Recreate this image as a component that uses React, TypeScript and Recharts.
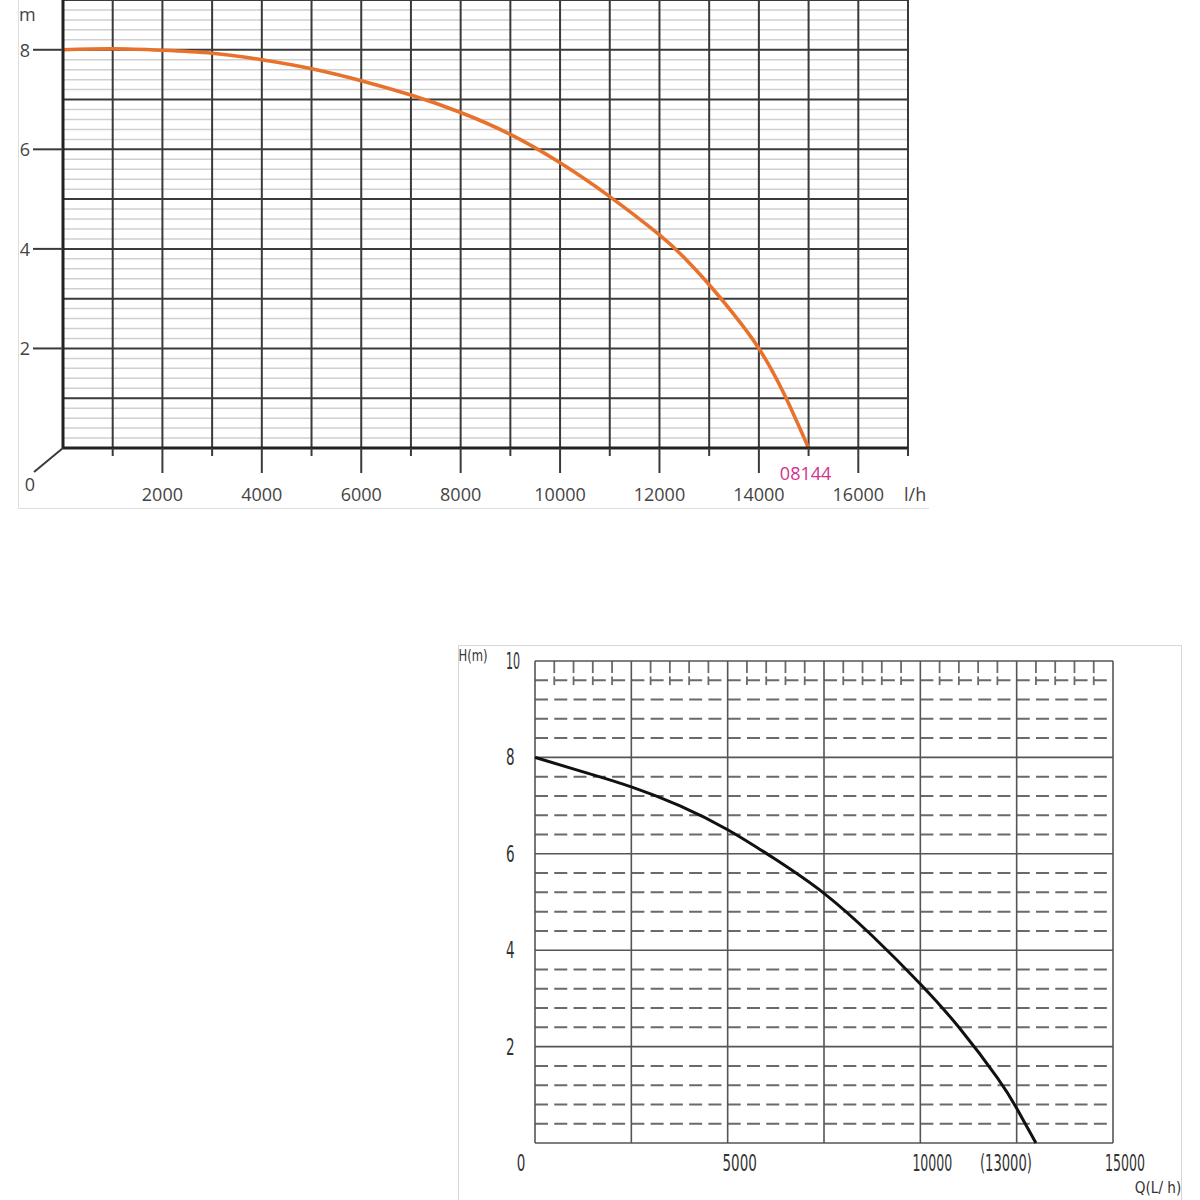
import { LineChart, Line, XAxis, YAxis, ReferenceLine } from "recharts"

// top curve (08144), head in m vs flow in l/h
const FLOW_A = [0, 1000, 2000, 3000, 4000, 5000, 6000, 7000, 8000, 9000, 10000, 11000, 12000, 12500, 13000, 13500, 14000, 14500, 15000]
const HEAD_A = [8.0, 8.02, 7.99, 7.93, 7.8, 7.62, 7.38, 7.09, 6.74, 6.3, 5.73, 5.05, 4.28, 3.82, 3.28, 2.68, 2.0, 1.1, 0]
const A_X_TICKS = [0, 1000, 2000, 3000, 4000, 5000, 6000, 7000, 8000, 9000, 10000, 11000, 12000, 13000, 14000, 15000, 16000, 17000]
const A_Y_TICKS = [2, 4, 6, 8, 9]
const A_MAJOR_Y = [1, 2, 3, 4, 5, 6, 7, 8, 9]

// bottom curve, H(m) vs Q(L/h)
const FLOW_B = [0, 1250, 2500, 3750, 5000, 6250, 7500, 8750, 10000, 11000, 12000, 12500, 13000]
const HEAD_B = [8.0, 7.7, 7.39, 7.0, 6.5, 5.88, 5.18, 4.3, 3.3, 2.4, 1.35, 0.72, 0]
const B_X_TICKS = [0, 5000, 10000, 13000, 15000]
const B_Y_TICKS = [2, 4, 6, 8, 10]
const B_GRID_X = [0, 2500, 5000, 7500, 10000, 12500, 15000]
const B_MAJOR_Y = [0, 2, 4, 6, 8, 10]

const range = (from: number, to: number, step: number) => {
  const out: number[] = []
  for (let v = from; v <= to + 1e-9; v += step) out.push(Math.round(v * 100) / 100)
  return out
}

// light minor lines every 0.2 m, skipping the whole metres
const A_MINOR_Y = range(0.2, 8.8, 0.2).filter((v) => Math.abs(v - Math.round(v)) > 0.01)
// dashed lines every 0.4 m, skipping the solid 2 m lines
const B_DASH_Y = range(0.4, 9.6, 0.4).filter((v) => Math.abs(v / 2 - Math.round(v / 2)) > 0.01)
// short marks along the top band every 500 L/h
const B_TOP_MARKS = range(500, 14500, 500).filter((v) => v % 2500 !== 0)

const dataA = FLOW_A.map((q, i) => ({ q, h: HEAD_A[i] }))
const dataB = FLOW_B.map((q, i) => ({ q, h: HEAD_B[i] }))

const SANS = "'Open Sans', 'Noto Sans', sans-serif"
const NARROW = "'DejaVu Sans Condensed', 'Liberation Sans Narrow', sans-serif"
const GRID_DARK = "#3a3a3a"

function narrowWidth(s: string) {
  let w = 0
  for (const ch of s) {
    if (ch === "1") w += 5.5
    else if (/[0-9]/.test(ch)) w += 8.6
    else if (ch === "(" || ch === ")" || ch === "/") w += 6
    else if (ch === " ") w += 3
    else w += 8.5
  }
  return w
}

function TopXTick({ x, y, payload }: any) {
  const v = payload.value as number
  if (v === 0) {
    return (
      <g>
        <line x1={x} y1={y} x2={x - 29} y2={y + 24} stroke={GRID_DARK} strokeWidth={2} />
        <text x={x - 33} y={y + 36} textAnchor="middle" dominantBaseline="central" fontFamily={SANS} fontSize={18} fill="#444">
          0
        </text>
      </g>
    )
  }
  const major = v % 2000 === 0
  return (
    <g>
      <line x1={x} y1={y} x2={x} y2={y + (major ? 25 : 8)} stroke={GRID_DARK} strokeWidth={2} />
      {major && (
        <text x={x} y={y + 46} textAnchor="middle" dominantBaseline="central" fontFamily={SANS} fontSize={18} fill="#444">
          {v}
        </text>
      )}
      {v === 15000 && (
        <text x={x - 3} y={y + 25} textAnchor="middle" dominantBaseline="central" fontFamily={SANS} fontSize={18} fill="#d0338a">
          08144
        </text>
      )}
      {v === 17000 && (
        <text x={x - 4} y={y + 46} textAnchor="start" dominantBaseline="central" fontFamily={SANS} fontSize={18} fill="#444">
          l/h
        </text>
      )}
    </g>
  )
}

function TopYTick({ x, y, payload }: any) {
  const v = payload.value as number
  if (v === 9) {
    return (
      <text x={x - 44} y={y + 14} textAnchor="start" dominantBaseline="central" fontFamily={SANS} fontSize={18} fill="#444">
        m
      </text>
    )
  }
  return (
    <g>
      <line x1={x - 30} y1={y} x2={x} y2={y} stroke={GRID_DARK} strokeWidth={2} />
      <text x={x - 33} y={y} textAnchor="end" dominantBaseline="central" fontFamily={SANS} fontSize={18} fill="#444">
        {v}
      </text>
    </g>
  )
}

function BottomXTick({ x, y, payload }: any) {
  const v = payload.value as number
  const label = v === 13000 ? `(${v})` : String(v)
  const dx = v === 0 ? -14 : v === 13000 ? -30 : 12
  return (
    <g>
      <text
        x={x + dx}
        y={y + 20}
        textAnchor="middle"
        dominantBaseline="central"
        fontFamily={NARROW}
        fontSize={23}
        fill="#333"
        textLength={narrowWidth(label)}
        lengthAdjust="spacingAndGlyphs"
      >
        {label}
      </text>
      {v === 15000 && (
        <text
          x={x + 45}
          y={y + 44}
          textAnchor="middle"
          dominantBaseline="central"
          fontFamily={NARROW}
          fontSize={16}
          fill="#333"
          textLength={narrowWidth("Q(L/ h)")}
          lengthAdjust="spacingAndGlyphs"
        >
          Q(L/ h)
        </text>
      )}
    </g>
  )
}

function BottomYTick({ x, y, payload }: any) {
  const v = payload.value as number
  const label = String(v)
  return (
    <g>
      <text
        x={x - 29}
        y={y}
        textAnchor="start"
        dominantBaseline="central"
        fontFamily={NARROW}
        fontSize={23}
        fill="#333"
        textLength={narrowWidth(label)}
        lengthAdjust="spacingAndGlyphs"
      >
        {label}
      </text>
      {v === 10 && (
        <text
          x={x - 62}
          y={y - 6}
          textAnchor="middle"
          dominantBaseline="central"
          fontFamily={NARROW}
          fontSize={16}
          fill="#333"
          textLength={narrowWidth("H(m)")}
          lengthAdjust="spacingAndGlyphs"
        >
          H(m)
        </text>
      )}
    </g>
  )
}

function TopChart() {
  return (
    <LineChart width={940} height={510} data={dataA} margin={{ top: 0, right: 32, bottom: 0, left: 0 }}>
      <XAxis
        dataKey="q"
        type="number"
        domain={[0, 17000]}
        ticks={A_X_TICKS}
        interval={0}
        height={62}
        tickSize={0}
        tickMargin={0}
        tickLine={false}
        axisLine={{ stroke: "#222", strokeWidth: 3 }}
        tick={<TopXTick />}
      />
      <YAxis
        type="number"
        domain={[0, 9]}
        ticks={A_Y_TICKS}
        interval={0}
        width={63}
        tickSize={0}
        tickMargin={0}
        tickLine={false}
        axisLine={{ stroke: "#222", strokeWidth: 3 }}
        tick={<TopYTick />}
      />
      {A_MINOR_Y.map((v) => (
        <ReferenceLine key={`mn${v}`} y={v} stroke="#cfcfcf" strokeWidth={1.5} />
      ))}
      {A_X_TICKS.filter((v) => v > 0).map((v) => (
        <ReferenceLine key={`vx${v}`} x={v} stroke={GRID_DARK} strokeWidth={2} />
      ))}
      {A_MAJOR_Y.map((v) => (
        <ReferenceLine key={`mj${v}`} y={v} stroke={GRID_DARK} strokeWidth={2} />
      ))}
      <Line
        type="natural"
        dataKey="h"
        stroke="#e8722c"
        strokeWidth={3.6}
        dot={false}
        activeDot={false}
        isAnimationActive={false}
      />
    </LineChart>
  )
}

function BottomChart() {
  return (
    <LineChart width={730} height={560} data={dataB} margin={{ top: 16, right: 75, bottom: 5, left: 0 }}>
      <XAxis
        dataKey="q"
        type="number"
        domain={[0, 15000]}
        ticks={B_X_TICKS}
        interval={0}
        height={57}
        tickSize={0}
        tickMargin={0}
        tickLine={false}
        axisLine={false}
        tick={<BottomXTick />}
      />
      <YAxis
        type="number"
        domain={[0, 10]}
        ticks={B_Y_TICKS}
        interval={0}
        width={77}
        tickSize={0}
        tickMargin={0}
        tickLine={false}
        axisLine={false}
        tick={<BottomYTick />}
      />
      {B_DASH_Y.map((v) => (
        <ReferenceLine key={`d${v}`} y={v} stroke="#6a6a6a" strokeWidth={2} strokeDasharray="13 6.27" />
      ))}
      {B_TOP_MARKS.map((v) => (
        <ReferenceLine
          key={`t${v}`}
          segment={[
            { x: v, y: 10 },
            { x: v, y: 9.75 },
          ]}
          stroke="#6a6a6a"
          strokeWidth={1.8}
        />
      ))}
      {B_TOP_MARKS.map((v) => (
        <ReferenceLine
          key={`c${v}`}
          segment={[
            { x: v, y: 9.68 },
            { x: v, y: 9.5 },
          ]}
          stroke="#6a6a6a"
          strokeWidth={1.8}
        />
      ))}
      {B_GRID_X.map((v) => (
        <ReferenceLine key={`g${v}`} x={v} stroke="#555" strokeWidth={1.6} />
      ))}
      {B_MAJOR_Y.map((v) => (
        <ReferenceLine key={`m${v}`} y={v} stroke="#555" strokeWidth={1.6} />
      ))}
      <Line
        type="natural"
        dataKey="h"
        stroke="#111"
        strokeWidth={3}
        dot={false}
        activeDot={false}
        isAnimationActive={false}
      />
    </LineChart>
  )
}

export default function App() {
  return (
    <div style={{ position: "absolute", left: 0, top: 0, width: 1200, height: 1200, background: "#fff", overflow: "hidden" }}>
      <div
        style={{
          position: "absolute",
          left: 18,
          top: 0,
          width: 910,
          height: 508,
          borderLeft: "1px solid #dedede",
          borderBottom: "1px solid #dedede",
        }}
      />
      <div style={{ position: "absolute", left: 0, top: 0 }}>
        <TopChart />
      </div>
      <div
        style={{
          position: "absolute",
          left: 458,
          top: 645,
          width: 724,
          height: 570,
          border: "1px solid #d6d6d6",
          boxSizing: "border-box",
        }}
      />
      <div style={{ position: "absolute", left: 458, top: 645 }}>
        <BottomChart />
      </div>
    </div>
  )
}
